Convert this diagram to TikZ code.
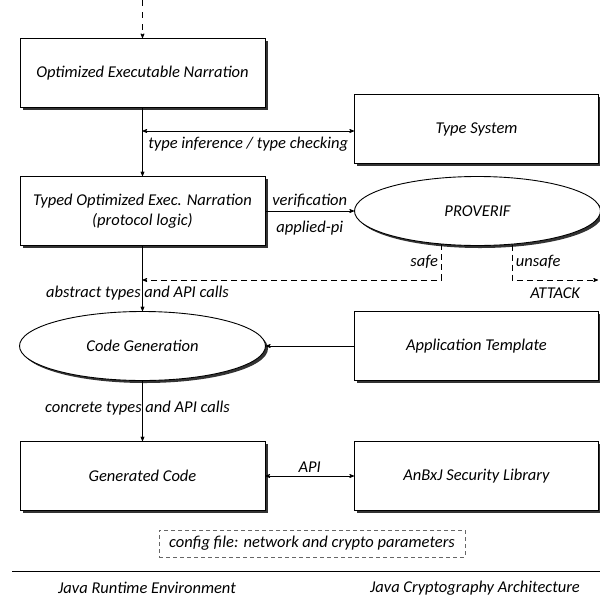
\documentclass[tikz,border=0pt]{standalone}
\usepackage{fontspec}
\setmainfont{Carlito}
\usetikzlibrary{shapes,arrows,positioning,shadows}
\tikzset{
block/.style = {draw, fill=white, rectangle, line width=0.9pt, minimum height=69pt, minimum width=245pt, drop shadow={shadow xshift=2.5pt, shadow yshift=-2.5pt, fill=black!80, opacity=1}},
tool/.style  = {draw, fill=white, ellipse, line width=0.9pt, minimum height=69pt, minimum width=246pt, inner sep=0pt, drop shadow={shadow xshift=2.5pt, shadow yshift=-2.5pt, fill=black!80, opacity=1}},
note/.style  = {draw=black!60, line width=0.8pt, dash pattern=on 4pt off 3pt, minimum width=306pt, minimum height=27pt},
input/.style = {coordinate},
tmp/.style   = {coordinate},
link/.style  = {line width=0.7pt},
maybe/.style = {line width=0.7pt, dash pattern=on 6pt off 4pt}
}

\begin{document}
\begin{tikzpicture}[x=1pt, y=-1pt, node distance=2cm, >=stealth', font=\fontsize{16.5}{20}\selectfont\itshape]
  \useasboundingbox (0,0) rectangle (600,598);

  \node [input, name=start] (start) at (142.5,0) {};
  \node [block, below of=start, node distance=73pt]     (optexec)  {Optimized Executable Narration};
  \node [block, below of=optexec, node distance=138pt]  (typed)    {\begin{tabular}{c}Typed Optimized Exec. Narration\\(protocol logic)\end{tabular}};
  \node [tool, below of=typed, node distance=135pt]     (codegen)  {Code Generation};
  \node [block, below of=codegen, node distance=130pt]  (gencode)  {Generated Code};

  \node [block, minimum width=244pt] (typesys) at (476.5,129) {Type System};
  \node [tool, right of=typed, node distance=335pt]     (proverif) {PROVERIF};
  \node [block, minimum width=244pt, right of=codegen, node distance=334pt] (apptemp) {Application Template};
  \node [block, minimum width=244pt, right of=gencode, node distance=334pt] (anbxj)   {AnBxJ Security Library};

  \node [note] (config) at (312,543.5) {config file: network and crypto parameters};

  \node [tmp] (tcheck) at (142.5,131) {};
  \node [tmp] (safe)   at (142.5,280) {};
  \node [tmp] (attack) at (598,280) {};
  \node [tmp] (ruleL)  at (12,571) {};
  \node [tmp] (ruleR)  at (600,571) {};

  \draw [->, link, dash pattern=on 6pt off 6pt] (start) -- (optexec);
  \draw [->, link] (optexec) -- (typed);
  \draw [<->, link] (tcheck) -- node [below=2pt] {type inference / type checking} (tcheck -| typesys.west);
  \draw [->, link] (typed) -- node [above] {verification} node [below=6pt] {applied-pi} (proverif);
  \draw [->, maybe] (proverif.-137) |- node [pos=0.25, left] {safe} (safe);
  \draw [->, maybe] (proverif.-44) |- node [pos=0.25, right] {unsafe} node [pos=0.75, below=4pt] {ATTACK} (attack);
  \draw [->, link] (typed) -- node [pos=0.72, xshift=-5pt] {abstract types and API calls} (codegen);
  \draw [->, link] (apptemp) -- (codegen);
  \draw [->, link] (codegen) -- node [pos=0.45, xshift=-5pt] {concrete types and API calls} (gencode);
  \draw [<->, link] (gencode) -- node [above] {API} (anbxj);

  \draw [line width=1pt] (ruleL) -- (ruleR);
  \node (jre) at (147,588) {Java Runtime Environment};
  \node (jca) at (475,588) {Java Cryptography Architecture};
\end{tikzpicture}
\end{document}
